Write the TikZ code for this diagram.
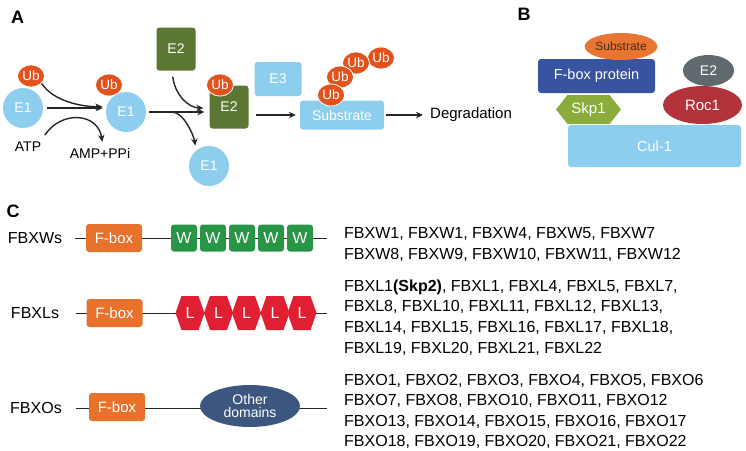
\documentclass[tikz,border=0pt]{standalone}
\usepackage{fontspec}
\setmainfont{Liberation Sans}
\usetikzlibrary{shapes.geometric,arrows.meta}
\definecolor{lblue}{RGB}{141,206,239}
\definecolor{ubor}{RGB}{226,82,28}
\definecolor{olive}{RGB}{92,118,52}
\definecolor{subor}{RGB}{232,118,50}
\definecolor{fbblue}{RGB}{56,84,160}
\definecolor{skpgreen}{RGB}{138,172,58}
\definecolor{etgray}{RGB}{95,105,110}
\definecolor{rocred}{RGB}{178,52,58}
\definecolor{fboxor}{RGB}{232,113,44}
\definecolor{wgreen}{RGB}{40,150,70}
\definecolor{lred}{RGB}{224,32,50}
\definecolor{odblue}{RGB}{61,86,128}
\definecolor{subtext}{RGB}{70,45,30}
\newcommand\fsz[1]{\fontsize{#1}{#1}\selectfont}
\begin{document}
\begin{tikzpicture}[x=1pt,y=1pt,
  lab/.style={font=\bfseries\fsz{18},inner sep=0pt},
  plain/.style={font=\fsz{14},inner sep=1pt},
  ub/.style={ellipse,fill=ubor,draw=white,line width=0.8pt,minimum width=27pt,minimum height=22pt,inner sep=0pt,text=white,font=\fsz{13.5}},
  eone/.style={circle,fill=lblue,minimum size=40pt,inner sep=0pt,text=white,font=\fsz{14}},
  etwo/.style={rectangle,rounded corners=3pt,fill=olive,minimum width=39pt,minimum height=43pt,inner sep=0pt,text=white,font=\fsz{14}},
  lbbox/.style={rectangle,rounded corners=3pt,fill=lblue,inner sep=0pt,text=white,font=\fsz{14}},
  arr/.style={-{Stealth[length=7pt,width=6.5pt]},line width=1.4pt,black!85},
  fbox/.style={rectangle,rounded corners=3pt,fill=fboxor,minimum width=56pt,minimum height=28pt,inner sep=0pt,text=white,font=\fsz{15}},
  wbox/.style={rectangle,rounded corners=3pt,fill=wgreen,minimum width=26pt,minimum height=27pt,inner sep=0pt,text=white,font=\fsz{16}},
  htext/.style={inner sep=0pt,text=white,font=\fsz{16}},
  back/.style={line width=0.9pt,black!85},
  rowlab/.style={font=\fsz{16},inner sep=0pt},
  lst/.style={font=\fsz{16},inner sep=0pt,anchor=base west},
]
\useasboundingbox (0,0) rectangle (746,-450);

% ---------------- Panel A ----------------
\node[lab] (labA) at (17.5,-17.5) {A};
\node[eone] (e1a) at (23,-108) {E1};
\node[ub] (ub1) at (31,-76) {Ub};
\node[plain] (atp) at (28,-147) {ATP};
\node[plain] (amp) at (100,-153) {AMP+PPi};
\node[eone] (e1b) at (126,-112) {E1};
\node[ub] (ub2) at (109,-85) {Ub};
\node[etwo] (e2a) at (176,-49) {E2};
\node[etwo] (e2b) at (229,-107) {E2};
\node[ub] (ub3) at (220,-85) {Ub};
\node[eone] (e1c) at (209,-166) {E1};
\node[lbbox,minimum width=47pt,minimum height=34pt] (e3) at (278,-79) {E3};
\node[lbbox,minimum width=84pt,minimum height=29pt] (sub) at (342,-115) {Substrate};
\node[ub] (uc4) at (381,-58) {Ub};
\node[ub] (uc3) at (356,-63) {Ub};
\node[ub] (uc2) at (340,-77) {Ub};
\node[ub] (uc1) at (331,-95) {Ub};
\node[font=\fsz{15},inner sep=0pt,anchor=west] (deg) at (430,-115) {Degradation};

\draw[arr,shorten <=4pt,shorten >=3pt] (e1a.east) -- (e1a.east -| e1b.west);
\draw[arr,shorten >=4pt] (ub1.-35) .. controls +(12,-18) and +(-25,0) .. (e1b.165);
\draw[arr,shorten <=1pt,shorten >=5pt] ([shift={(2,5)}]atp.north east) .. controls +(17,26) and +(-5,34) .. ([xshift=3pt]amp.north);
\draw[arr,shorten <=3pt,shorten >=5pt] (e1b.east) -- (e1b.east -| e2b.west);
\draw[arr,shorten <=6pt,shorten >=6pt] ([xshift=-4pt]e2a.south) .. controls +(3,-25) and +(-20,0) .. ([yshift=-1pt]e2b.west);
\coordinate (br) at (172,-112);
\draw[arr,shorten >=5pt] (br) .. controls +(12,0) and +(-2,14) .. (e1c.130);
\draw[arr,shorten <=7pt,shorten >=4pt] (e2b.east |- sub.west) -- (sub.west);
\draw[arr,shorten <=2pt,shorten >=7pt] (sub.east) -- (deg.west);

% ---------------- Panel B ----------------
\node[lab] (labB) at (524,-14) {B};
\node[rectangle,rounded corners=3pt,fill=lblue,minimum width=173pt,minimum height=42pt,inner sep=0pt,text=white,font=\fsz{14.5}] (cul) at (654.5,-146) {Cul-1};
\fill[skpgreen] (556,-109.5) -- (567.5,-95) -- (609.5,-95) -- (621,-109.5) -- (609.5,-124) -- (567.5,-124) -- cycle;
\node[inner sep=0pt,text=white,font=\fsz{15}] (skp) at (588.5,-109.5) {Skp1};
\node[rectangle,rounded corners=3pt,fill=fbblue,minimum width=117pt,minimum height=34pt,inner sep=0pt,text=white,font=\fsz{14.5}] (fbp) at (596.5,-76) {F-box protein};
\node[ellipse,fill=subor,minimum width=72pt,minimum height=27pt,inner sep=0pt,text=subtext,font=\fsz{12}] (subB) at (621,-46.5) {Substrate};
\node[ellipse,fill=etgray,minimum width=51pt,minimum height=31pt,inner sep=0pt,text=white,font=\fsz{14}] (e2B) at (708.5,-70.5) {E2};
\node[ellipse,fill=rocred,minimum width=79pt,minimum height=38pt,inner sep=0pt,text=white,font=\fsz{15}] (roc) at (702.5,-105) {Roc1};

% ---------------- Panel C ----------------
\node[lab] (labC) at (13,-211) {C};

% FBXWs row
\node[rowlab] (rw) at (35,-238) {FBXWs};
\coordinate (rws) at (75,-238);
\coordinate (rwe) at (327,-238);
\draw[back] (rws) -- (rwe);
\node[fbox] (fbw) at (114,-238) {F-box};
\foreach \i/\x in {1/184,2/213,3/242,4/271,5/300} {
  \node[wbox] (wb\i) at (\x,-238) {W};
}

% FBXLs row
\node[rowlab] (rl) at (35,-313) {FBXLs};
\coordinate (rls) at (76,-313);
\coordinate (rle) at (327,-313);
\draw[back] (rls) -- (rle);
\node[fbox] (fbl) at (114.5,-313) {F-box};
\foreach \i/\x in {1/190,2/218.5,3/246.5,4/275,5/302} {
  \fill[lred] (\x-14.5,-313) -- (\x-8.5,-296) -- (\x+8.5,-296) -- (\x+14.5,-313) -- (\x+8.5,-330) -- (\x-8.5,-330) -- cycle;
  \node[htext] (lh\i) at (\x,-313) {L};
}

% FBXOs row
\node[rowlab] (ro) at (36,-408) {FBXOs};
\coordinate (ros) at (76,-408);
\coordinate (roe) at (327,-408);
\draw[back] (ros) -- (roe);
\node[fbox] (fbo) at (117,-407) {F-box};
\node[ellipse,fill=odblue,minimum width=100pt,minimum height=42pt,inner sep=0pt,text=white,font=\fsz{14},align=center] (od) at (250,-406) {Other\\[-1pt]domains};

% lists
\node[lst] (lw1) at (344,-238.7) {FBXW1, FBXW1, FBXW4, FBXW5, FBXW7};
\node[lst] (lw2) at (344,-259.3) {FBXW8, FBXW9, FBXW10, FBXW11, FBXW12};
\node[lst] (ll1) at (344,-291.3) {FBXL1\textbf{(Skp2)}, FBXL1, FBXL4, FBXL5, FBXL7,};
\node[lst] (ll2) at (344,-311.9) {FBXL8, FBXL10, FBXL11, FBXL12, FBXL13,};
\node[lst] (ll3) at (344,-332.5) {FBXL14, FBXL15, FBXL16, FBXL17, FBXL18,};
\node[lst] (ll4) at (344,-353.1) {FBXL19, FBXL20, FBXL21, FBXL22};
\node[lst] (lo1) at (344,-385.1) {FBXO1, FBXO2, FBXO3, FBXO4, FBXO5, FBXO6};
\node[lst] (lo2) at (344,-405.7) {FBXO7, FBXO8, FBXO10, FBXO11, FBXO12};
\node[lst] (lo3) at (344,-426.3) {FBXO13, FBXO14, FBXO15, FBXO16, FBXO17};
\node[lst] (lo4) at (344,-446.9) {FBXO18, FBXO19, FBXO20, FBXO21, FBXO22};
\end{tikzpicture}
\end{document}
